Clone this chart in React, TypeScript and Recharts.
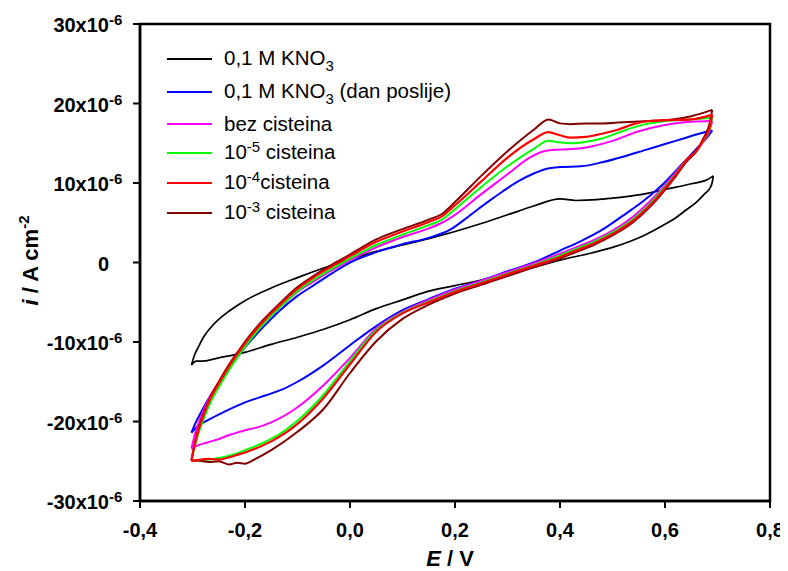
import React from 'react';
import { LineChart, Line, XAxis, YAxis, ReferenceArea, Legend } from 'recharts';

const FONT = "Arial, 'Liberation Sans', Helvetica, sans-serif";

// Axis ticks
const X_TICKS = [-0.4, -0.2, 0, 0.2, 0.4, 0.6, 0.8];
const Y_TICKS = [-30, -20, -10, 0, 10, 20, 30]; // x10^-6 A cm^-2

// ---- 0,1 M KNO3 (black) ----
const kno3FwdE = [-0.302, -0.296, -0.29, -0.28, -0.26, -0.23, -0.2, -0.15, -0.1, -0.05, 0.0, 0.05, 0.1, 0.15, 0.2, 0.25, 0.3, 0.35, 0.4, 0.43, 0.47, 0.5, 0.55, 0.6, 0.65, 0.68, 0.692];
const kno3FwdI = [-12.9, -11.6, -10.8, -9.5, -7.8, -6.1, -4.8, -3.2, -1.9, -0.7, 0.4, 1.4, 2.2, 3.0, 3.9, 4.9, 6.0, 7.1, 8.0, 7.8, 7.9, 8.1, 8.5, 9.2, 9.9, 10.4, 10.9];
const kno3RevE = [0.692, 0.69, 0.685, 0.675, 0.66, 0.64, 0.62, 0.6, 0.56, 0.5, 0.46, 0.4, 0.35, 0.3, 0.25, 0.2, 0.15, 0.1, 0.05, 0.0, -0.05, -0.1, -0.15, -0.2, -0.25, -0.28, -0.293, -0.302];
const kno3RevI = [10.9, 10.1, 9.3, 8.6, 7.6, 6.6, 5.6, 4.8, 3.4, 1.9, 1.2, 0.3, -0.6, -1.3, -2.2, -2.9, -3.6, -4.7, -5.8, -7.2, -8.4, -9.4, -10.3, -11.3, -12.0, -12.4, -12.4, -12.9];

// ---- 0,1 M KNO3 (dan poslije) (blue) ----
const dayFwdE = [-0.302, -0.295, -0.285, -0.27, -0.25, -0.23, -0.21, -0.19, -0.165, -0.133, -0.1, -0.07, -0.035, 0.0, 0.05, 0.1, 0.15, 0.19, 0.23, 0.26, 0.29, 0.32, 0.35, 0.375, 0.4, 0.44, 0.48, 0.52, 0.56, 0.6, 0.64, 0.67, 0.69];
const dayFwdI = [-21.4, -20.3, -19.0, -17.2, -15.2, -13.3, -11.5, -9.9, -8.1, -6.0, -4.2, -2.9, -1.4, 0.0, 1.3, 2.3, 3.1, 4.1, 6.0, 7.5, 8.9, 10.2, 11.2, 11.8, 12.0, 12.1, 12.6, 13.3, 14.1, 14.9, 15.7, 16.3, 16.6];
const dayRevE = [0.69, 0.68, 0.667, 0.65, 0.63, 0.6, 0.56, 0.52, 0.48, 0.44, 0.4, 0.35, 0.3, 0.25, 0.2, 0.15, 0.1, 0.05, 0.0, -0.05, -0.1, -0.13, -0.16, -0.2, -0.24, -0.27, -0.29, -0.302];
const dayRevI = [16.6, 15.7, 14.8, 13.6, 12.2, 10.1, 7.8, 5.9, 4.1, 2.7, 1.5, 0.0, -1.1, -2.3, -3.3, -4.6, -6.0, -8.0, -10.4, -12.9, -15.0, -16.0, -16.7, -17.6, -18.8, -19.8, -20.6, -21.4];

// ---- bez cisteina (magenta) ----
const bezFwdE = [-0.302, -0.295, -0.285, -0.27, -0.25, -0.23, -0.21, -0.19, -0.165, -0.133, -0.1, -0.07, -0.035, 0.0, 0.05, 0.1, 0.15, 0.175, 0.2, 0.25, 0.3, 0.34, 0.37, 0.4, 0.43, 0.46, 0.5, 0.55, 0.6, 0.65, 0.69];
const bezFwdI = [-23.4, -21.5, -19.6, -17.3, -15.1, -13.1, -11.2, -9.5, -7.6, -5.6, -3.7, -2.4, -1.0, 0.3, 1.9, 3.2, 4.3, 5.0, 6.0, 8.6, 11.1, 13.1, 14.0, 14.2, 14.3, 14.6, 15.3, 16.5, 17.3, 17.7, 17.8];

// shared potential grids for the cysteine sweeps
const cysFwdE = [-0.302, -0.298, -0.29, -0.28, -0.265, -0.25, -0.23, -0.21, -0.19, -0.165, -0.133, -0.1, -0.07, -0.035, 0.0, 0.05, 0.1, 0.15, 0.175, 0.2, 0.25, 0.3, 0.35, 0.378, 0.4, 0.42, 0.45, 0.48, 0.51, 0.54, 0.57, 0.6, 0.65, 0.69];
const cysRevE = [0.69, 0.685, 0.673, 0.66, 0.641, 0.62, 0.597, 0.57, 0.54, 0.5, 0.464, 0.43, 0.4, 0.35, 0.3, 0.25, 0.2, 0.15, 0.1, 0.05, 0.0, -0.05, -0.1, -0.15, -0.18, -0.2, -0.215, -0.23, -0.25, -0.27, -0.29, -0.302];

const bezRevI = [17.8, 16.6, 15.2, 14.0, 12.9, 11.3, 9.5, 7.6, 5.8, 4.0, 2.8, 1.9, 1.1, -0.1, -1.2, -2.3, -3.4, -4.7, -6.2, -8.3, -12.0, -15.4, -18.2, -20.1, -20.8, -21.1, -21.4, -21.7, -22.2, -22.6, -23.0, -23.4];

// ---- 10^-5 cisteina (green) ----
const c5FwdI = [-24.9, -23.8, -21.8, -19.9, -17.5, -15.7, -13.5, -11.5, -9.7, -7.7, -5.6, -3.6, -2.2, -0.8, 0.5, 2.2, 3.5, 4.7, 5.4, 6.7, 9.5, 12.1, 14.3, 15.3, 15.1, 15.0, 15.2, 15.6, 16.3, 17.0, 17.5, 17.8, 18.0, 18.2];
const c5RevI = [18.2, 16.8, 15.3, 14.0, 12.9, 11.1, 9.3, 7.3, 5.5, 3.8, 2.6, 1.7, 0.9, -0.3, -1.4, -2.5, -3.6, -4.9, -6.3, -8.5, -12.4, -16.6, -19.9, -22.2, -23.1, -23.6, -24.0, -24.3, -24.6, -24.8, -24.9, -24.95];

// ---- 10^-4 cisteina (red) ----
const c4FwdI = [-24.9, -23.6, -21.4, -19.4, -17.0, -15.2, -13.0, -11.1, -9.3, -7.4, -5.3, -3.3, -1.9, -0.5, 0.8, 2.6, 3.9, 5.1, 5.8, 7.2, 10.2, 13.2, 15.5, 16.4, 16.0, 15.7, 15.8, 16.2, 16.7, 17.4, 17.8, 17.9, 18.0, 18.6];
const c4RevI = [18.6, 17.0, 15.4, 14.1, 12.9, 11.0, 9.1, 7.1, 5.3, 3.6, 2.4, 1.5, 0.7, -0.4, -1.5, -2.6, -3.7, -5.0, -6.4, -8.7, -12.8, -17.0, -20.3, -22.5, -23.4, -23.9, -24.2, -24.5, -24.8, -24.7, -24.85, -24.95];

// ---- 10^-3 cisteina (dark red) ----
const c3FwdI = [-24.9, -23.5, -21.2, -19.2, -16.8, -15.0, -12.8, -10.9, -9.1, -7.2, -5.1, -3.1, -1.7, -0.3, 1.0, 2.9, 4.2, 5.4, 6.1, 7.6, 10.9, 14.0, 16.7, 18.0, 17.5, 17.4, 17.5, 17.5, 17.6, 17.7, 17.8, 17.9, 18.4, 19.2];
const c3RevI = [19.2, 17.5, 15.6, 14.0, 12.7, 10.8, 8.9, 6.9, 5.1, 3.4, 2.2, 1.3, 0.5, -0.6, -1.7, -2.8, -3.9, -5.3, -7.1, -9.9, -13.9, -18.4, -21.3, -23.6, -24.7, -25.3, -25.2, -25.4, -25.0, -25.1, -24.9, -24.9];

type Seg = { t: string; k?: 'sup' | 'sub' };

const SERIES_NAMES = ['kno3', 'day', 'bez', 'c5', 'c4', 'c3'];
const SERIES_LABELS: Seg[][] = [
  [{ t: '0,1 M KNO' }, { t: '3', k: 'sub' }],
  [{ t: '0,1 M KNO' }, { t: '3', k: 'sub' }, { t: ' (dan poslije)' }],
  [{ t: 'bez cisteina' }],
  [{ t: '10' }, { t: '-5', k: 'sup' }, { t: ' cisteina' }],
  [{ t: '10' }, { t: '-4', k: 'sup' }, { t: 'cisteina' }],
  [{ t: '10' }, { t: '-3', k: 'sup' }, { t: ' cisteina' }],
];
const SERIES_COLORS = ['#000000', '#0000ff', '#ff00ff', '#00ff00', '#ff0000', '#800000'];
const SERIES_WIDTHS = [1.7, 2, 2, 2, 2.2, 2];

const SWEEPS: { fE: number[]; fI: number[]; rE: number[]; rI: number[] }[] = [
  { fE: kno3FwdE, fI: kno3FwdI, rE: kno3RevE, rI: kno3RevI },
  { fE: dayFwdE, fI: dayFwdI, rE: dayRevE, rI: dayRevI },
  { fE: bezFwdE, fI: bezFwdI, rE: cysRevE, rI: bezRevI },
  { fE: cysFwdE, fI: c5FwdI, rE: cysRevE, rI: c5RevI },
  { fE: cysFwdE, fI: c4FwdI, rE: cysRevE, rI: c4RevI },
  { fE: cysFwdE, fI: c3FwdI, rE: cysRevE, rI: c3RevI },
];

// drawing order (back to front)
const DRAW_ORDER = [0, 1, 2, 3, 5, 4];

const zip = (E: number[], I: number[]) => E.map((e, k) => ({ E: e, i: I[k] }));

const LEGEND_ROW_CENTERS = [51, 84, 116, 145, 175, 205];

const XTick = (props: any) => {
  const { x, y, payload } = props;
  const label = Number(payload.value).toFixed(1).replace('.', ',');
  return (
    <text x={x} y={y + 27} textAnchor="middle" fontFamily={FONT} fontWeight="bold" fontSize={20} fill="#000">
      {label}
    </text>
  );
};

const YTick = (props: any) => {
  const { x, y, payload } = props;
  const v = payload.value;
  return (
    <g>
      <text x={x - 22} y={y + 8} textAnchor="end" fontFamily={FONT} fontWeight="bold" fontSize={20} fill="#000">
        {v === 0 ? '0' : `${v}x10`}
      </text>
      {v !== 0 && (
        <text x={x - 22} y={y + 1} textAnchor="start" fontFamily={FONT} fontWeight="bold" fontSize={15} fill="#000">
          -6
        </text>
      )}
    </g>
  );
};

const XLabel = (props: any) => {
  const vb = props.viewBox || { x: 132, y: 493, width: 630, height: 70 };
  const cx = vb.x + vb.width / 2 - 5;
  const by = vb.y + 65;
  return (
    <text x={cx} y={by} textAnchor="middle" fontFamily={FONT} fontWeight="bold" fontSize={22} fill="#000">
      <tspan fontStyle="italic">E</tspan>
      <tspan> / V</tspan>
    </text>
  );
};

const YLabel = (props: any) => {
  const vb = props.viewBox || { x: 0, y: 16, width: 132, height: 477 };
  const cx = 30;
  const cy = vb.y + vb.height / 2 - 2;
  return (
    <text
      x={cx}
      y={cy}
      transform={`rotate(-90 ${cx} ${cy})`}
      textAnchor="middle"
      fontFamily={FONT}
      fontWeight="bold"
      fontSize={22}
      fill="#000"
    >
      <tspan fontStyle="italic">i</tspan>
      <tspan> / A cm</tspan>
      <tspan dy={-9} fontSize={15}>-2</tspan>
    </text>
  );
};

const renderSeg = (s: Seg, k: number) => {
  if (s.k === 'sub')
    return (
      <span key={k} style={{ fontSize: 15, position: 'relative', top: 6 }}>
        {s.t}
      </span>
    );
  if (s.k === 'sup')
    return (
      <span key={k} style={{ fontSize: 15, position: 'relative', top: -7 }}>
        {s.t}
      </span>
    );
  return <span key={k}>{s.t}</span>;
};

const LegendBox = () => (
  <div style={{ position: 'relative', width: 420, height: 230 }}>
    {SERIES_LABELS.map((segs, k) => (
      <div
        key={SERIES_NAMES[k]}
        style={{
          position: 'absolute',
          left: 0,
          top: LEGEND_ROW_CENTERS[k] - 14,
          height: 28,
          display: 'flex',
          alignItems: 'center',
          whiteSpace: 'nowrap',
        }}
      >
        <div style={{ width: 45, height: 2.5, background: SERIES_COLORS[k] }} />
        <span style={{ marginLeft: 12, fontSize: 20.5, fontFamily: FONT, color: '#000', lineHeight: '28px' }}>
          {segs.map(renderSeg)}
        </span>
      </div>
    ))}
  </div>
);

export default function App() {
  return (
    <LineChart width={780} height={563} margin={{ top: 16, right: 18, left: 0, bottom: 0 }}>
      <XAxis
        type="number"
        dataKey="E"
        domain={[-0.4, 0.8]}
        ticks={X_TICKS}
        interval={0}
        height={70}
        tickSize={7}
        tick={<XTick />}
        axisLine={{ stroke: '#000', strokeWidth: 2.5 }}
        tickLine={{ stroke: '#000', strokeWidth: 2 }}
        label={<XLabel />}
        allowDataOverflow
      />
      <YAxis
        type="number"
        domain={[-30, 30]}
        ticks={Y_TICKS}
        interval={0}
        width={132}
        tickSize={7}
        tick={<YTick />}
        axisLine={{ stroke: '#000', strokeWidth: 2.5 }}
        tickLine={{ stroke: '#000', strokeWidth: 2 }}
        label={<YLabel />}
        allowDataOverflow
      />
      <ReferenceArea x1={-0.4} x2={0.8} y1={-30} y2={30} fill="none" fillOpacity={0} stroke="#000" strokeWidth={2.5} ifOverflow="visible" />
      {DRAW_ORDER.map((k) => {
        const s = SWEEPS[k];
        return [
          <Line
            key={SERIES_NAMES[k] + '-fwd'}
            data={zip(s.fE, s.fI)}
            dataKey="i"
            type="monotone"
            stroke={SERIES_COLORS[k]}
            strokeWidth={SERIES_WIDTHS[k]}
            dot={false}
            activeDot={false}
            legendType="none"
            isAnimationActive={false}
          />,
          <Line
            key={SERIES_NAMES[k] + '-rev'}
            data={zip(s.rE, s.rI)}
            dataKey="i"
            type="monotone"
            stroke={SERIES_COLORS[k]}
            strokeWidth={SERIES_WIDTHS[k]}
            dot={false}
            activeDot={false}
            legendType="none"
            isAnimationActive={false}
          />,
        ];
      })}
      <Legend
        layout="vertical"
        align="center"
        verticalAlign="middle"
        wrapperStyle={{ top: 0, left: 159, width: 420, height: 230 }}
        content={() => <LegendBox />}
      />
    </LineChart>
  );
}
